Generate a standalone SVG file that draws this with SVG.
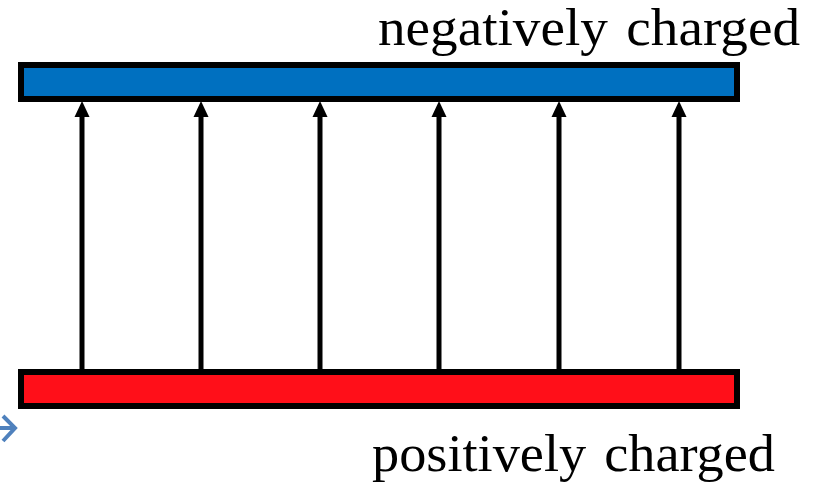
<svg xmlns="http://www.w3.org/2000/svg" width="815" height="485" viewBox="0 0 815 485">
<defs>
<style>
.plate{stroke:#000;stroke-width:6}
.field{stroke:#000;stroke-width:5;fill:none}
.lbl{font-family:"Liberation Serif","Times New Roman",serif;font-size:52px;fill:#000;white-space:pre}
</style>
</defs>
<rect width="815" height="485" fill="#fff"/>
<g id="connectors">
<path class="field" d="M82,369 V114" />
<path class="field" d="M201,369 V114" />
<path class="field" d="M320,369 V114" />
<path class="field" d="M439,369 V114" />
<path class="field" d="M559,369 V114" />
<path class="field" d="M679,369 V114" />
<g fill="#000">
<path d="M74.5,117 L82,101 L89.5,117 Z"/>
<path d="M193.5,117 L201,101 L208.5,117 Z"/>
<path d="M312.5,117 L320,101 L327.5,117 Z"/>
<path d="M431.5,117 L439,101 L446.5,117 Z"/>
<path d="M551.5,117 L559,101 L566.5,117 Z"/>
<path d="M671.5,117 L679,101 L686.5,117 Z"/>
</g>
</g>
<g id="negative-plate">
<rect class="plate" x="21" y="65" width="716" height="34" fill="#0070C0"/>
<text class="lbl" x="378" y="45" textLength="422" lengthAdjust="spacingAndGlyphs">negatively&#8196;charged</text>
</g>
<g id="positive-plate">
<rect class="plate" x="21" y="372" width="716" height="34" fill="#FF0F19"/>
<text class="lbl" x="372" y="471" textLength="403" lengthAdjust="spacingAndGlyphs">positively&#8196;charged</text>
</g>
<g id="side-arrow" fill="none" stroke="#4F81BD" stroke-width="4">
<path d="M0,428 H14"/>
<path d="M3,416 L15,428 L3,441"/>
</g>
</svg>
